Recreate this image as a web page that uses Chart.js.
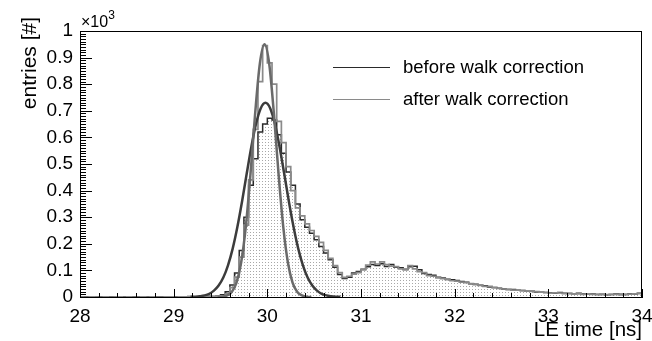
<!DOCTYPE html>
<html>
<head>
<meta charset="utf-8">
<title>LE time</title>
<script src="https://cdn.jsdelivr.net/npm/chart.js@4.4.1/dist/chart.umd.min.js"></script>
<style>
    html, body { margin: 0; padding: 0; background: #fff; }
    #leChart { display: block; }
</style>
</head>
<body>
<canvas id="leChart" width="652" height="341"></canvas>
<script>
// Histogram binning (ns)
const binStart = 28.0;
const binWidth = 0.05;

// Entries per bin - before walk correction
const beforeCounts = [
    0, 1, 0, 0, 1, 0, 1, 0, 0, 1, 0, 1, 1, 0, 1, 0, 1, 1, 0, 1,
    1, 0, 1, 2, 1, 1, 2, 3, 2, 4,
    8, 20, 45, 90, 175, 300, 420, 520, 620, 650,
    672, 665, 610, 540, 470, 420, 350, 290, 262, 240,
    215, 190, 165, 140, 112, 85, 70, 74, 90, 96,
    104, 114, 122, 118, 125, 115, 122, 112, 110, 104,
    114, 116, 102, 88, 85, 82, 74, 71, 67, 65,
    62, 58, 55, 50, 48, 44, 42, 38, 36, 33,
    30, 28, 28, 25, 24, 22, 22, 19, 18, 17,
    16, 15, 17, 14, 13, 12, 14, 11, 10, 11, 9, 10, 8, 9, 11, 10, 9, 12, 11, 14
];

// Entries per bin - after walk correction
const afterCounts = [
    0, 0, 1, 0, 0, 1, 0, 0, 1, 0, 1, 0, 0, 1, 0, 1, 0, 0, 1, 1,
    0, 1, 1, 1, 0, 1, 1, 2, 2, 3,
    4, 12, 35, 75, 150, 270, 440, 630, 810, 945,
    880, 800, 660, 580, 490, 400, 335, 305, 275, 250,
    228, 205, 175, 145, 118, 92, 74, 78, 86, 92,
    102, 120, 132, 124, 132, 122, 116, 114, 106, 102,
    118, 106, 95, 92, 80, 78, 72, 69, 65, 61,
    60, 56, 54, 50, 46, 44, 40, 40, 35, 32,
    30, 29, 26, 26, 24, 22, 21, 20, 18, 17,
    15, 16, 15, 13, 14, 12, 12, 10, 11, 10, 10, 9, 9, 10, 10, 8, 10, 11, 12, 13
];

// Gauss fits
const fitBeforeT = [29.18, 29.23, 29.28, 29.33, 29.38, 29.43, 29.48, 29.53, 29.58, 29.63, 29.68,
    29.73, 29.78, 29.83, 29.88, 29.93, 29.98, 30.03, 30.08, 30.13, 30.18, 30.23, 30.28,
    30.33, 30.38, 30.43, 30.48, 30.53, 30.58, 30.63, 30.68, 30.73, 30.78];
const fitBeforeV = [0.5, 1.2, 3, 6, 12, 24, 43, 73, 119, 182, 263,
    359, 464, 566, 652, 710, 730, 710, 652, 566, 464, 359, 263,
    182, 119, 73, 43, 24, 12, 6, 3, 1.2, 0.5];

const fitAfterT = [29.47, 29.52, 29.57, 29.62, 29.67, 29.72, 29.77, 29.82, 29.87, 29.92, 29.97,
    30.02, 30.07, 30.12, 30.17, 30.22, 30.27, 30.32, 30.37, 30.42, 30.47];
const fitAfterV = [0, 1, 6, 19, 53, 129, 264, 462, 690, 877, 950,
    877, 690, 462, 264, 129, 53, 19, 6, 1, 0];

// Axis ranges and labels
const xMin = 28, xMax = 34;
const yMax = 1000;
const legendLabels = ['before walk correction', 'after walk correction'];

const FONT = '"Liberation Sans", Arial, Helvetica, sans-serif';
const COLOR_BEFORE = '#2a2a2a';
const COLOR_AFTER = '#8a8a8a';

function histPoints(counts) {
    const pts = counts.map((c, i) => ({ x: binStart + i * binWidth, y: c }));
    pts.push({ x: binStart + counts.length * binWidth, y: counts[counts.length - 1] });
    return pts;
}

function curvePoints(ts, vs) {
    return ts.map((t, i) => ({ x: t, y: vs[i] }));
}

// Dotted fill like ROOT's fill style
function dotPattern() {
    const c = document.createElement('canvas');
    c.width = 3;
    c.height = 3;
    const p = c.getContext('2d');
    p.fillStyle = '#ffffff';
    p.fillRect(0, 0, 3, 3);
    p.fillStyle = '#a8a8a8';
    p.fillRect(1, 1, 1, 1);
    return p.createPattern(c, 'repeat');
}

// Frame, inward ticks, titles and legend
const decorPlugin = {
    id: 'decor',
    afterDraw(chart) {
        const { ctx, chartArea: a, scales: { x, y } } = chart;
        ctx.save();
        ctx.strokeStyle = '#000';
        ctx.lineWidth = 1;
        ctx.strokeRect(a.left + 0.5, a.top + 0.5, a.right - a.left - 1, a.bottom - a.top);

        ctx.beginPath();
        for (let v = 0; v <= yMax; v += 10) {
            const py = Math.round(y.getPixelForValue(v)) + 0.5;
            const len = v % 100 === 0 ? 12 : 6;
            ctx.moveTo(a.left, py);
            ctx.lineTo(a.left + len, py);
        }
        for (let i = 0; i <= (xMax - xMin) * 5; i++) {
            const px = Math.round(x.getPixelForValue(xMin + i * 0.2)) + 0.5;
            const len = i % 5 === 0 ? 8 : 4;
            ctx.moveTo(px, a.bottom);
            ctx.lineTo(px, a.bottom - len);
        }
        ctx.stroke();

        // exponent label
        ctx.fillStyle = '#000';
        ctx.textAlign = 'left';
        ctx.textBaseline = 'alphabetic';
        ctx.font = '16px ' + FONT;
        ctx.fillText('\u00d710', a.left + 1, 27);
        const w = ctx.measureText('\u00d710').width;
        ctx.font = '12px ' + FONT;
        ctx.fillText('3', a.left + 1 + w, 19);

        // axis titles
        ctx.font = '20.5px ' + FONT;
        ctx.textAlign = 'right';
        ctx.fillText('LE time [ns]', a.right, 336);
        ctx.font = '21px ' + FONT;
        ctx.save();
        ctx.translate(36, 17);
        ctx.rotate(-Math.PI / 2);
        ctx.fillText('entries [#]', 0, 0);
        ctx.restore();

        // legend
        const rows = [[COLOR_BEFORE, 67.5], [COLOR_AFTER, 99.5]];
        ctx.font = '18.5px ' + FONT;
        ctx.textAlign = 'left';
        ctx.textBaseline = 'middle';
        rows.forEach(([col, ly], i) => {
            ctx.strokeStyle = col;
            ctx.beginPath();
            ctx.moveTo(333, ly);
            ctx.lineTo(390, ly);
            ctx.stroke();
            ctx.fillStyle = '#000';
            ctx.fillText(legendLabels[i], 403, ly);
        });
        ctx.restore();
    }
};

const ctx = document.getElementById('leChart').getContext('2d');

new Chart(ctx, {
    type: 'line',
    data: {
        datasets: [{
            label: 'fit after',
            data: curvePoints(fitAfterT, fitAfterV),
            borderColor: '#6a6a6a',
            borderWidth: 2.5,
            cubicInterpolationMode: 'monotone',
            pointRadius: 0,
            fill: false,
            order: 1
        }, {
            label: 'fit before',
            data: curvePoints(fitBeforeT, fitBeforeV),
            borderColor: '#3c3c3c',
            borderWidth: 2.5,
            cubicInterpolationMode: 'monotone',
            pointRadius: 0,
            fill: false,
            order: 2
        }, {
            label: legendLabels[1],
            data: histPoints(afterCounts),
            borderColor: COLOR_AFTER,
            borderWidth: 1.7,
            stepped: true,
            pointRadius: 0,
            fill: false,
            order: 3
        }, {
            label: legendLabels[0],
            data: histPoints(beforeCounts),
            borderColor: COLOR_BEFORE,
            borderWidth: 1.5,
            backgroundColor: dotPattern(),
            stepped: true,
            pointRadius: 0,
            fill: 'origin',
            order: 4
        }]
    },
    options: {
        responsive: false,
        animation: false,
        devicePixelRatio: 1,
        layout: { padding: { top: 31, right: 0, left: 0, bottom: 0 } },
        plugins: {
            legend: { display: false },
            tooltip: { enabled: false }
        },
        scales: {
            x: {
                type: 'linear',
                min: xMin,
                max: xMax,
                afterFit: s => {
                    s.height = 44;
                    s.paddingLeft = 0;
                    s.paddingRight = 10;
                },
                grid: { display: false, drawTicks: false },
                border: { display: true, color: '#000' },
                ticks: {
                    stepSize: 1,
                    padding: 8,
                    color: '#000',
                    font: { family: FONT, size: 19 }
                }
            },
            y: {
                min: 0,
                max: yMax,
                afterFit: s => {
                    s.width = 80;
                    s.paddingTop = 0;
                    s.paddingBottom = 0;
                },
                grid: { display: false, drawTicks: false },
                border: { display: true, color: '#000' },
                ticks: {
                    stepSize: 100,
                    padding: 7,
                    color: '#000',
                    font: { family: FONT, size: 19 },
                    callback: v => String(Math.round(v) / 1000)
                }
            }
        }
    },
    plugins: [decorPlugin]
});
</script>
</body>
</html>
